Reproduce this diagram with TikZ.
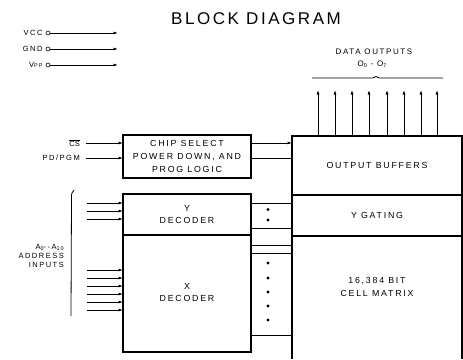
\documentclass[tikz,border=0pt]{standalone}
\usepackage{fontspec}
\setmainfont{Liberation Sans}
\newfontfamily\lbl[LetterSpace=20]{Liberation Sans}
\newfontfamily\ttl[LetterSpace=15]{Liberation Sans}
\usetikzlibrary{arrows.meta}
\begin{document}
\begin{tikzpicture}[x=1pt,y=-1pt,
  blk/.style={draw, line width=1.2pt, inner sep=0pt, outer sep=0pt},
  wire/.style={line width=0.8pt},
  arr/.style={wire, -{Latex[length=4.5pt,width=3pt]}},
  txt/.style={font=\lbl\fontsize{8.8}{12.8}\selectfont, align=center, inner sep=0pt},
  pin/.style={font=\lbl\fontsize{7.5}{10}\selectfont, inner sep=0pt},
  dotc/.style={fill, circle, inner sep=0pt, minimum size=3.2pt}]
\useasboundingbox (0,0) rectangle (463,359);

% title
\node[font=\ttl\fontsize{17}{20}\selectfont, inner sep=0pt] (title) at (256,19) {BLOCK DIAGRAM};

% power pins
\foreach \nm/\lab/\yy in {vcc/VCC/33, gnd/GND/49, vpp/V{\fontsize{5.5}{6}\selectfont PP}/65}{
  \node[draw, circle, line width=0.6pt, inner sep=0pt, minimum size=4pt] (\nm c) at (48,\yy) {};
  \node[pin, anchor=east] (\nm t) at ([xshift=-3pt]\nm c.west) {\lab};
  \coordinate (\nm e) at (118,\yy);
  \draw[arr] (\nm c.east) -- (\nm e);
}

% chip select box
\node[blk, minimum width=128pt, minimum height=43pt] (cs) at (187,156.5) {};
\node[txt] (cst) at (cs.center) {CHIP SELECT\\POWER DOWN, AND\\PROG LOGIC};

\node[pin, anchor=east] (csl) at (80,143) {$\overline{\mbox{C}}\overline{\mbox{S}}$};
\node[pin, anchor=east] (pdl) at (80,158) {PD/PGM};
\coordinate (csi) at (86,143);
\coordinate (pdi) at (86,158);
\draw[arr] (csi) -- (csi -| cs.west);
\draw[arr] (pdi) -- (pdi -| cs.west);

% left decoder box
\node[blk, minimum width=128pt, minimum height=41pt, anchor=north west] (yd) at (123,194) {};
\node[blk, minimum width=128pt, minimum height=117pt, anchor=north west] (xd) at (123,235) {};
\node[txt] (ydt) at (yd.center) {Y\\DECODER};
\node[txt] (xdt) at ([yshift=1pt]xd.center) {X\\DECODER};

% right box
\node[blk, minimum width=170pt, minimum height=59pt, anchor=north west] (ob) at (292,136) {};
\node[blk, minimum width=170pt, minimum height=41pt, anchor=north west] (yg) at (292,195) {};
\coordinate (cmtl) at (292,236);
\coordinate (cmtr) at (462,236);
\draw[line width=1.2pt] (292,359) -- (cmtl) -- (cmtr) -- (462,359);
\node[txt] (obt) at (ob.center) {OUTPUT BUFFERS};
\node[txt] (ygt) at (yg.center) {Y GATING};
\node[txt] (cmt) at (377,287) {16,384 BIT\\CELL MATRIX};

% chip select to output buffers
\coordinate (c1) at (251,143);
\coordinate (c2) at (251,158);
\draw[arr] (c1) -- (c1 -| ob.west);
\draw[wire] (c2) -- (c2 -| ob.west);

% y decoder to y gating
\foreach \yy in {203,228}{
  \coordinate (ya\yy) at (251,\yy);
  \draw[wire] (ya\yy) -- (ya\yy -| yg.west);
}
\node[dotc] (yd1) at (268,209.5) {};
\node[dotc] (yd2) at (268,220) {};

% x decoder to cell matrix
\foreach \yy in {245,253,335}{
  \coordinate (xa\yy) at (251,\yy);
  \draw[wire] (xa\yy) -- (xa\yy -| cmtl);
}
\foreach \yy [count=\i] in {263,278,292,306,320}{
  \node[dotc] (xdot\i) at (268,\yy) {};
}

% address inputs
\foreach \yy [count=\i] in {203,211,219}{
  \coordinate (ai\i) at (87,\yy);
  \draw[arr] (ai\i) -- (ai\i -| yd.west);
}
\foreach \yy [count=\i] in {270,278,286,294,302,310}{
  \coordinate (bi\i) at (87,\yy);
  \draw[arr] (bi\i) -- (bi\i -| xd.west);
}
\coordinate (brt) at (74,190);
\coordinate (brb) at (71,316);
\draw[wire] (brt) .. controls (71.5,193) .. (71.5,199) -- (brb);
\node[pin, align=right, anchor=east] (addr) at (64,256)
  {A\raisebox{-1.2pt}{\fontsize{5.5}{6}\selectfont 0}--A\raisebox{-1.2pt}{\fontsize{5.5}{6}\selectfont 10}\\[-1pt]ADDRESS\\[-1pt]INPUTS};

% data outputs
\node[pin, font=\lbl\fontsize{8}{10}\selectfont] (dot) at (374,52) {DATA OUTPUTS};
\node[pin, font=\lbl\fontsize{8}{10}\selectfont] (dos) at (372,64) {O\raisebox{-1.2pt}{\fontsize{5.5}{6}\selectfont 0} - O\raisebox{-1.2pt}{\fontsize{5.5}{6}\selectfont 7}};
\coordinate (brl) at (312,78);
\coordinate (brr) at (443,78);
\draw[wire] (brl) -- (373,78) -- (376,76.5) -- (379,78) -- (brr);
\foreach \xx [count=\i] in {318,335,352,369,387,404,421,437}{
  \coordinate (do\i) at (\xx,90);
  \draw[arr] (do\i |- ob.north) -- (do\i);
}
\end{tikzpicture}
\end{document}
